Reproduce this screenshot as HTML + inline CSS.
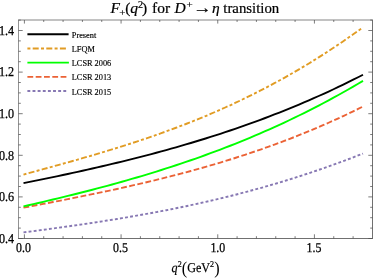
<!DOCTYPE html>
<html><head><meta charset="utf-8"><style>
html,body{margin:0;padding:0;background:#fff}
svg{display:block}
text{font-family:"Liberation Serif",serif;fill:#000}
</style></head><body>
<svg width="374" height="280" viewBox="0 0 374 280">
<rect width="374" height="280" fill="#fff"/>
<g fill="none" stroke-width="1.9" stroke-linejoin="round">
<path d="M23.5,232.43 L28.4,231.78 L33.3,231.13 L38.3,230.47 L43.2,229.81 L48.1,229.14 L53.0,228.47 L57.9,227.79 L62.9,227.11 L67.8,226.41 L72.7,225.72 L77.6,225.01 L82.5,224.29 L87.5,223.57 L92.4,222.83 L97.3,222.08 L102.2,221.33 L107.1,220.56 L112.1,219.78 L117.0,218.98 L121.9,218.17 L126.8,217.35 L131.7,216.51 L136.7,215.66 L141.6,214.80 L146.5,213.91 L151.4,213.02 L156.3,212.10 L161.3,211.17 L166.2,210.22 L171.1,209.25 L176.0,208.26 L180.9,207.25 L185.9,206.23 L190.8,205.18 L195.7,204.11 L200.6,203.03 L205.6,201.92 L210.5,200.79 L215.4,199.64 L220.3,198.47 L225.2,197.27 L230.2,196.05 L235.1,194.81 L240.0,193.54 L244.9,192.26 L249.8,190.94 L254.8,189.60 L259.7,188.24 L264.6,186.86 L269.5,185.44 L274.4,184.01 L279.4,182.54 L284.3,181.05 L289.2,179.54 L294.1,178.00 L299.0,176.43 L304.0,174.83 L308.9,173.21 L313.8,171.56 L318.7,169.88 L323.6,168.18 L328.6,166.45 L333.5,164.69 L338.4,162.90 L343.3,161.08 L348.2,159.24 L353.2,157.37 L358.1,155.46 L363.0,153.53" stroke="#8778B3" stroke-dasharray="2.9 2.23"/>
<path d="M23.5,207.63 L28.4,206.71 L33.3,205.78 L38.3,204.84 L43.2,203.90 L48.1,202.96 L53.0,202.01 L57.9,201.06 L62.9,200.10 L67.8,199.13 L72.7,198.16 L77.6,197.17 L82.5,196.18 L87.5,195.18 L92.4,194.17 L97.3,193.15 L102.2,192.12 L107.1,191.07 L112.1,190.02 L117.0,188.95 L121.9,187.87 L126.8,186.77 L131.7,185.66 L136.7,184.53 L141.6,183.39 L146.5,182.23 L151.4,181.06 L156.3,179.87 L161.3,178.66 L166.2,177.43 L171.1,176.18 L176.0,174.92 L180.9,173.63 L185.9,172.32 L190.8,170.99 L195.7,169.64 L200.6,168.27 L205.6,166.87 L210.5,165.45 L215.4,164.01 L220.3,162.54 L225.2,161.04 L230.2,159.52 L235.1,157.98 L240.0,156.40 L244.9,154.80 L249.8,153.17 L254.8,151.51 L259.7,149.82 L264.6,148.10 L269.5,146.35 L274.4,144.57 L279.4,142.76 L284.3,140.91 L289.2,139.03 L294.1,137.12 L299.0,135.18 L304.0,133.20 L308.9,131.18 L313.8,129.13 L318.7,127.04 L323.6,124.92 L328.6,122.75 L333.5,120.55 L338.4,118.31 L343.3,116.03 L348.2,113.72 L353.2,111.36 L358.1,108.96 L363.0,106.51" stroke="#EB6235" stroke-dasharray="5.8 2.5"/>
<path d="M23.5,206.33 L28.4,205.22 L33.3,204.10 L38.3,202.97 L43.2,201.83 L48.1,200.67 L53.0,199.51 L57.9,198.33 L62.9,197.15 L67.8,195.95 L72.7,194.73 L77.6,193.50 L82.5,192.26 L87.5,191.00 L92.4,189.73 L97.3,188.44 L102.2,187.14 L107.1,185.82 L112.1,184.48 L117.0,183.12 L121.9,181.74 L126.8,180.35 L131.7,178.93 L136.7,177.50 L141.6,176.04 L146.5,174.57 L151.4,173.07 L156.3,171.55 L161.3,170.01 L166.2,168.44 L171.1,166.85 L176.0,165.24 L180.9,163.60 L185.9,161.93 L190.8,160.24 L195.7,158.53 L200.6,156.78 L205.6,155.01 L210.5,153.22 L215.4,151.39 L220.3,149.54 L225.2,147.65 L230.2,145.74 L235.1,143.79 L240.0,141.82 L244.9,139.81 L249.8,137.77 L254.8,135.70 L259.7,133.59 L264.6,131.45 L269.5,129.28 L274.4,127.07 L279.4,124.83 L284.3,122.55 L289.2,120.24 L294.1,117.89 L299.0,115.50 L304.0,113.08 L308.9,110.61 L313.8,108.11 L318.7,105.57 L323.6,102.99 L328.6,100.37 L333.5,97.70 L338.4,95.00 L343.3,92.25 L348.2,89.47 L353.2,86.64 L358.1,83.76 L363.0,80.84" stroke="#00FF00"/>
<path d="M23.5,174.56 L28.4,173.21 L33.3,171.86 L38.3,170.52 L43.2,169.17 L48.1,167.82 L53.0,166.46 L57.9,165.10 L62.9,163.73 L67.8,162.36 L72.7,160.97 L77.6,159.58 L82.5,158.17 L87.5,156.75 L92.4,155.32 L97.3,153.87 L102.2,152.40 L107.1,150.92 L112.1,149.42 L117.0,147.90 L121.9,146.36 L126.8,144.80 L131.7,143.21 L136.7,141.60 L141.6,139.97 L146.5,138.31 L151.4,136.62 L156.3,134.91 L161.3,133.17 L166.2,131.39 L171.1,129.59 L176.0,127.76 L180.9,125.89 L185.9,123.99 L190.8,122.06 L195.7,120.09 L200.6,118.08 L205.6,116.04 L210.5,113.96 L215.4,111.85 L220.3,109.69 L225.2,107.50 L230.2,105.26 L235.1,102.98 L240.0,100.67 L244.9,98.31 L249.8,95.90 L254.8,93.45 L259.7,90.96 L264.6,88.42 L269.5,85.84 L274.4,83.21 L279.4,80.53 L284.3,77.80 L289.2,75.03 L294.1,72.21 L299.0,69.33 L304.0,66.41 L308.9,63.44 L313.8,60.42 L318.7,57.34 L323.6,54.22 L328.6,51.04 L333.5,47.80 L338.4,44.52 L343.3,41.18 L348.2,37.79 L353.2,34.34 L358.1,30.84 L363.0,27.28" stroke="#E19C24" stroke-dasharray="3.0 2.3 6.0 2.3"/>
<path d="M23.5,183.17 L28.4,182.18 L33.3,181.18 L38.3,180.17 L43.2,179.16 L48.1,178.14 L53.0,177.11 L57.9,176.07 L62.9,175.02 L67.8,173.97 L72.7,172.90 L77.6,171.82 L82.5,170.73 L87.5,169.63 L92.4,168.52 L97.3,167.39 L102.2,166.26 L107.1,165.10 L112.1,163.94 L117.0,162.76 L121.9,161.56 L126.8,160.35 L131.7,159.12 L136.7,157.88 L141.6,156.62 L146.5,155.34 L151.4,154.05 L156.3,152.74 L161.3,151.40 L166.2,150.05 L171.1,148.68 L176.0,147.29 L180.9,145.88 L185.9,144.44 L190.8,142.99 L195.7,141.51 L200.6,140.01 L205.6,138.49 L210.5,136.94 L215.4,135.37 L220.3,133.78 L225.2,132.16 L230.2,130.51 L235.1,128.84 L240.0,127.15 L244.9,125.42 L249.8,123.67 L254.8,121.89 L259.7,120.08 L264.6,118.24 L269.5,116.38 L274.4,114.48 L279.4,112.56 L284.3,110.60 L289.2,108.61 L294.1,106.59 L299.0,104.54 L304.0,102.46 L308.9,100.34 L313.8,98.19 L318.7,96.00 L323.6,93.78 L328.6,91.53 L333.5,89.24 L338.4,86.91 L343.3,84.55 L348.2,82.15 L353.2,79.71 L358.1,77.24 L363.0,74.72" stroke="#000"/>
</g>
<g fill="none" stroke="#777" stroke-width="1">
<path d="M18.5,20.0 V238.5" stroke="#929292"/><path d="M18.0,20.0 H373.0" stroke="#858585"/><path d="M372.5,20.0 V238.5" stroke="#707070"/><path d="M18.0,238.5 H373.0" stroke="#707070"/>
<path d="M24.40,238.5 v-4.2 M24.40,20.0 v3.57 M43.73,238.5 v-2.3 M43.73,20.0 v1.95 M63.07,238.5 v-2.3 M63.07,20.0 v1.95 M82.41,238.5 v-2.3 M82.41,20.0 v1.95 M101.74,238.5 v-2.3 M101.74,20.0 v1.95 M121.07,238.5 v-4.2 M121.07,20.0 v3.57 M140.41,238.5 v-2.3 M140.41,20.0 v1.95 M159.75,238.5 v-2.3 M159.75,20.0 v1.95 M179.08,238.5 v-2.3 M179.08,20.0 v1.95 M198.41,238.5 v-2.3 M198.41,20.0 v1.95 M217.75,238.5 v-4.2 M217.75,20.0 v3.57 M237.09,238.5 v-2.3 M237.09,20.0 v1.95 M256.42,238.5 v-2.3 M256.42,20.0 v1.95 M275.75,238.5 v-2.3 M275.75,20.0 v1.95 M295.09,238.5 v-2.3 M295.09,20.0 v1.95 M314.42,238.5 v-4.2 M314.42,20.0 v3.57 M333.76,238.5 v-2.3 M333.76,20.0 v1.95 M353.10,238.5 v-2.3 M353.10,20.0 v1.95 M18.5,238.50 h4.2 M372.5,238.50 h-4.2 M18.5,228.10 h2.3 M372.5,228.10 h-2.3 M18.5,217.70 h2.3 M372.5,217.70 h-2.3 M18.5,207.30 h2.3 M372.5,207.30 h-2.3 M18.5,196.90 h4.2 M372.5,196.90 h-4.2 M18.5,186.50 h2.3 M372.5,186.50 h-2.3 M18.5,176.10 h2.3 M372.5,176.10 h-2.3 M18.5,165.70 h2.3 M372.5,165.70 h-2.3 M18.5,155.30 h4.2 M372.5,155.30 h-4.2 M18.5,144.90 h2.3 M372.5,144.90 h-2.3 M18.5,134.50 h2.3 M372.5,134.50 h-2.3 M18.5,124.10 h2.3 M372.5,124.10 h-2.3 M18.5,113.70 h4.2 M372.5,113.70 h-4.2 M18.5,103.30 h2.3 M372.5,103.30 h-2.3 M18.5,92.90 h2.3 M372.5,92.90 h-2.3 M18.5,82.50 h2.3 M372.5,82.50 h-2.3 M18.5,72.10 h4.2 M372.5,72.10 h-4.2 M18.5,61.70 h2.3 M372.5,61.70 h-2.3 M18.5,51.30 h2.3 M372.5,51.30 h-2.3 M18.5,40.90 h2.3 M372.5,40.90 h-2.3 M18.5,30.50 h4.2 M372.5,30.50 h-4.2 M18.5,20.10 h2.3 M372.5,20.10 h-2.3" stroke="#505050" stroke-width="0.75"/>
</g>
<g font-size="13.5" style="text-rendering:geometricPrecision" stroke="#000" stroke-width="0.25"><text transform="translate(23.5,252.1) scale(0.88,1)" text-anchor="middle">0.0</text><text transform="translate(120.5,252.1) scale(0.88,1)" text-anchor="middle">0.5</text><text transform="translate(217.8,252.1) scale(0.88,1)" text-anchor="middle">1.0</text><text transform="translate(314.0,252.1) scale(0.88,1)" text-anchor="middle">1.5</text><text transform="translate(14.2,242.8) scale(0.9,1)" text-anchor="end">0.4</text><text transform="translate(14.2,201.2) scale(0.9,1)" text-anchor="end">0.6</text><text transform="translate(14.2,159.6) scale(0.9,1)" text-anchor="end">0.8</text><text transform="translate(14.2,118.0) scale(0.9,1)" text-anchor="end">1.0</text><text transform="translate(14.2,76.4) scale(0.9,1)" text-anchor="end">1.2</text><text transform="translate(14.2,34.8) scale(0.9,1)" text-anchor="end">1.4</text></g>
<g fill="none" stroke-width="1.9">
<path d="M27.4,34.25 H68.6" stroke="#000"/>
<path d="M27.4,48.5 H66.2" stroke="#E19C24" stroke-dasharray="3.0 2.3 6.0 2.3"/>
<path d="M27.4,62.6 H68.9" stroke="#00FF00"/>
<path d="M27.4,76.9 H66.8" stroke="#EB6235" stroke-dasharray="5.8 2.5"/>
<path d="M27.4,91.0 H66.8" stroke="#8778B3" stroke-dasharray="2.9 2.23"/>
</g>
<g font-size="8.3" stroke="#000" stroke-width="0.15">
<text x="71.8" y="37.7">Present</text>
<text x="71.8" y="52.0">LFQM</text>
<text x="71.8" y="66.2">LCSR 2006</text>
<text x="71.8" y="80.3">LCSR 2013</text>
<text x="71.8" y="94.5">LCSR 2015</text>
</g>
<g font-size="15.5" stroke="#000" stroke-width="0.2">
<text x="110.5" y="13.1"><tspan font-style="italic">F</tspan><tspan font-size="11" dy="3.3" dx="-0.8">+</tspan><tspan dy="-3.3" dx="-0.2">(</tspan><tspan font-style="italic" dx="-0.2">q</tspan><tspan font-size="10" dy="-5.5" dx="0.2">2</tspan><tspan dy="5.5" dx="-1.1">)</tspan><tspan dx="1.0"> for</tspan></text>
<text x="174.6" y="13.1"><tspan font-style="italic">D</tspan><tspan font-size="11" dy="-5.3" dx="0.6">+</tspan></text>
<text transform="translate(193.3,13.1) scale(1.18,1)">→</text>
<text x="212.1" y="13.1" font-style="italic">η</text>
<text x="223.3" y="13.1" textLength="56" lengthAdjust="spacingAndGlyphs">transition</text>
</g>
<text transform="translate(171.6,272.4) scale(0.9,1)" font-size="13.5" style="text-rendering:geometricPrecision" stroke="#000" stroke-width="0.2"><tspan font-style="italic">q</tspan><tspan font-size="9" dy="-5">2</tspan><tspan dy="6.2" font-size="18" stroke="none">(</tspan><tspan dy="-1.2" font-size="13.5">GeV</tspan><tspan font-size="9" dy="-5">2</tspan><tspan dy="6.2" font-size="18" stroke="none">)</tspan></text>
</svg>
</body></html>
